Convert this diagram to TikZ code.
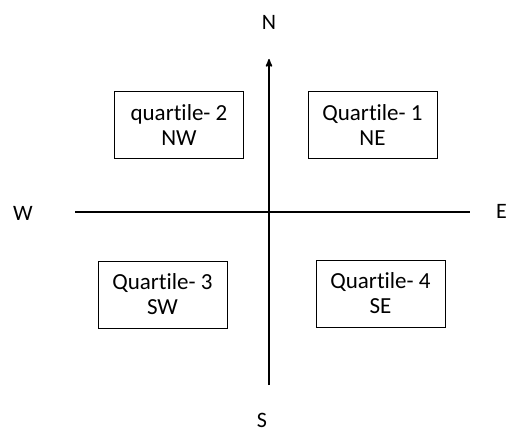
\documentclass[tikz,border=0pt]{standalone}
\usepackage{fontspec}
\setmainfont{Carlito}[Ligatures={NoCommon}]
\usetikzlibrary{positioning,arrows}
\tikzset{
quad/.style={rectangle,draw,line width=1pt,minimum width=129pt,minimum height=67pt,align=center,font=\fontsize{23}{25}\selectfont,inner sep=1mm},
dir/.style={font=\fontsize{22}{24}\selectfont},
axis/.style={line width=1.6pt},
}
\begin{document}
\begin{tikzpicture}[x=1pt,y=-1pt]
	\useasboundingbox (0,0) rectangle (509,433);

	\node[quad] (nw) at (179,125) {quartile- 2\\NW};
	\node[quad] (ne) at (372.5,125) {Quartile- 1\\NE};
	\node[quad] (sw) at (162.5,294.5) {Quartile- 3\\SW};
	\node[quad] (se) at (380.5,293.5) {Quartile- 4\\SE};

	\node[dir] (n) at (269,22) {N};
	\node[dir] (s) at (262,420) {S};
	\node[dir] (w) at (23,213) {W};
	\node[dir,anchor=east,inner sep=1pt] (e) at (508,211) {E};

	\coordinate (top) at (269,59);
	\coordinate (bot) at (269,385);
	\coordinate (left) at (75,212);
	\coordinate (right) at (470,212);

	\draw[axis,-stealth'] (bot) -- (top);
	\draw[axis] (left) -- (right);
\end{tikzpicture}
\end{document}
